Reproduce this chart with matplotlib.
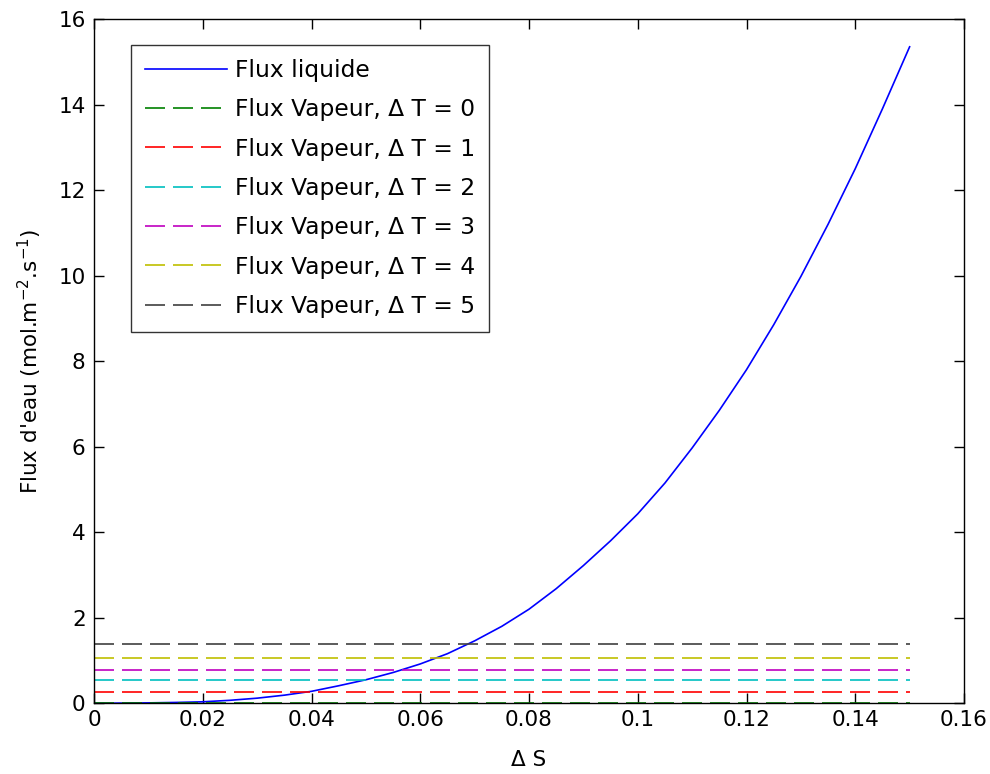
import matplotlib
matplotlib.use("Agg")
import matplotlib.pyplot as plt

plt.rcParams['font.family'] = ['DejaVu Sans']
plt.rcParams['mathtext.default'] = 'regular'

# Data
delta_s = [0, 0.005, 0.01, 0.015, 0.02, 0.025, 0.03, 0.035, 0.04, 0.045, 0.05,
           0.055, 0.06, 0.065, 0.07, 0.075, 0.08, 0.085, 0.09, 0.095, 0.1,
           0.105, 0.11, 0.115, 0.12, 0.125, 0.13, 0.135, 0.14, 0.145, 0.15]
flux_liquide = [0.0, 0.005, 0.01, 0.02, 0.035, 0.07, 0.12, 0.19, 0.28, 0.41, 0.55,
                0.72, 0.92, 1.16, 1.46, 1.80, 2.2, 2.68, 3.22, 3.80, 4.43,
                5.15, 5.97, 6.85, 7.8, 8.85, 9.98, 11.2, 12.5, 13.9, 15.35]
vapeur_x = [0, 0.15]
delta_T = [0, 1, 2, 3, 4, 5]
flux_vapeur = [0.0, 0.27, 0.54, 0.78, 1.06, 1.39]
vapeur_colors = [(0, 0.5, 0), (1, 0, 0), (0, 0.75, 0.75), (0.75, 0, 0.75),
                 (0.75, 0.75, 0), (0.25, 0.25, 0.25)]
xticks = [0, 0.02, 0.04, 0.06, 0.08, 0.1, 0.12, 0.14, 0.16]
xticklabels = ['0', '0.02', '0.04', '0.06', '0.08', '0.1', '0.12', '0.14', '0.16']
yticks = [0, 2, 4, 6, 8, 10, 12, 14, 16]

fig = plt.figure(figsize=(9.9, 7.74), dpi=100)
ax = fig.add_axes([94/990, 1 - 703.3/774, 870/990, (703.3 - 19)/774])

ax.plot(delta_s, flux_liquide, color=(0, 0, 1), lw=1.2, label='Flux liquide')
for dt, fv, c in zip(delta_T, flux_vapeur, vapeur_colors):
    ax.plot(vapeur_x, [fv, fv], color=c, lw=1.2, dashes=(12, 4.8),
            label=f'Flux Vapeur, \u0394 T = {dt}')

ax.set_xlim(0, 0.16)
ax.set_ylim(0, 16)
ax.set_xticks(xticks)
ax.set_xticklabels(xticklabels)
ax.set_yticks(yticks)
ax.tick_params(direction='in', length=7, width=1, top=True, right=True,
               labelsize=15.5, colors='black')
ax.tick_params(axis='x', pad=5)
ax.tick_params(axis='y', pad=6)
for s in ax.spines.values():
    s.set_linewidth(1.0)
    s.set_color('black')

ax.set_xlabel('\u0394 S', fontsize=15.5, labelpad=14)
ax.set_ylabel("Flux d'eau (mol.m$^{-2}$.s$^{-1}$)", fontsize=15.5, labelpad=10)

leg = ax.legend(loc='upper left', bbox_to_anchor=((131 - 94)/870, (703.3 - 45)/684.3),
                borderaxespad=0, fontsize=16.8, frameon=True, fancybox=False,
                edgecolor='black', handlelength=3.5, handletextpad=0.35,
                labelspacing=0.70, borderpad=0.6)
leg.get_frame().set_linewidth(1.0)

fig.savefig('out.png', dpi=100, facecolor='white')
